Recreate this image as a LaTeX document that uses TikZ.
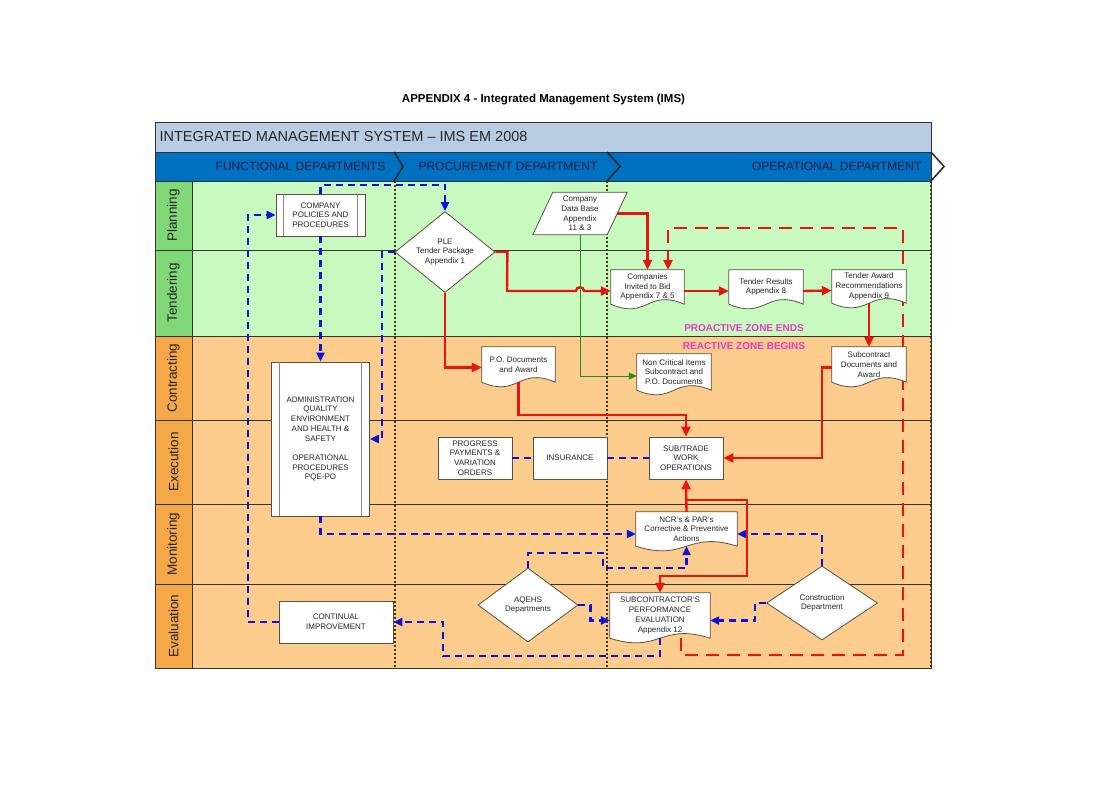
\documentclass[tikz,border=0pt]{standalone}
\usepackage{fontspec}
\setmainfont{Liberation Sans}
\usetikzlibrary{arrows.meta,shapes.geometric,calc}
\pgfdeclarelayer{back}
\pgfdeclarelayer{mid}
\pgfsetlayers{back,mid,main}
\definecolor{titlebar}{RGB}{184,204,228}
\definecolor{hdrblue}{RGB}{0,112,192}
\definecolor{hdrtext}{RGB}{12,30,72}
\definecolor{greenlbl}{RGB}{128,216,120}
\definecolor{greenbg}{RGB}{200,250,192}
\definecolor{orangelbl}{RGB}{245,168,72}
\definecolor{orangebg}{RGB}{252,204,140}
\definecolor{bdr}{RGB}{90,80,70}
\definecolor{flowblue}{RGB}{16,16,220}
\definecolor{flowred}{RGB}{232,20,20}
\definecolor{flowgreen}{RGB}{40,140,30}
\definecolor{zonemag}{RGB}{224,60,200}
\definecolor{sepcol}{RGB}{70,55,20}
\tikzset{
  txt/.style={font=\fontsize{8}{9.7}\selectfont, align=center, text=black!85, inner sep=1pt},
  procbox/.style={txt, draw=bdr, fill=white, line width=0.8pt},
  docn/.style={txt},
  docline/.style={draw=bdr, fill=white, line width=0.8pt},
  decision/.style={txt, diamond, aspect=1.25, draw=bdr, fill=white, line width=0.8pt, inner sep=0pt},
  innerline/.style={draw=bdr!70, line width=0.7pt},
  lanelbl/.style={font=\fontsize{13.5}{15}\selectfont, text=black!85, rotate=90},
  hdr/.style={font=\fontsize{12}{14}\selectfont, text=hdrtext},
  zone/.style={font=\fontsize{10}{12}\selectfont\bfseries, text=zonemag},
  laneline/.style={draw=black!80, line width=0.8pt},
  sepline/.style={draw=sepcol, line width=1.6pt, dash pattern=on 2pt off 2pt},
  chev/.style={draw=black!85, line width=1.5pt},
  bflow/.style={draw=flowblue, line width=2.2pt, dash pattern=on 7pt off 5pt, -{Triangle[length=9pt,width=8pt]}},
  bplain/.style={draw=flowblue, line width=2.2pt, dash pattern=on 7pt off 5pt},
  rflow/.style={draw=flowred, line width=2.4pt, -{Triangle[length=10pt,width=9pt]}},
  rdash/.style={draw=flowred, line width=2.4pt, dash pattern=on 13pt off 8pt, -{Triangle[length=10pt,width=9pt]}},
  gflow/.style={draw=flowgreen, line width=1pt, -{Triangle[length=8pt,width=7pt]}},
}
\newcommand\docshape[1]{\draw[docline] (#1.south west) -- (#1.north west) -- (#1.north east) -- (#1.south east) .. controls ([yshift=16pt]#1.south) and ([yshift=-16pt]#1.south) .. (#1.south west) -- cycle;}
\begin{document}
\begin{tikzpicture}[x=1pt,y=-1pt]
\useasboundingbox (0,0) rectangle (1100,790);

% background lanes
\begin{pgfonlayer}{back}
\fill[white] (0,0) rectangle (1100,790);
\fill[titlebar] (155,122) rectangle (931,152);
\fill[hdrblue] (155,152) rectangle (931,181);
\fill[greenbg] (192,181) rectangle (931,336);
\fill[greenlbl] (155,181) rectangle (192,336);
\fill[orangebg] (192,336) rectangle (931,668);
\fill[orangelbl] (155,336) rectangle (192,668);
\foreach \yy in {181,250,336,420,504,584}{\draw[laneline] (155,\yy) -- (931,\yy);}
\draw[laneline] (192,181) -- (192,668);
\draw[draw=black!80, line width=1pt] (155,122) rectangle (931,668);
\draw[laneline] (155,152) -- (931,152);
\draw[sepline] (395,181) -- (395,668);
\draw[sepline] (607,181) -- (607,668);
\draw[sepline] (931,181) -- (931,668);
\draw[chev] (394,152) -- (403,166.5) -- (394,181);
\draw[chev] (607,152) -- (620,166.5) -- (607,181);
\draw[chev] (931,152) -- (944,166.5) -- (931,181);
\end{pgfonlayer}

% title
\node[font=\fontsize{11.5}{13}\selectfont\bfseries] (maintitle) at (543.5,100) {APPENDIX 4 - Integrated Management System (IMS)};

\node[anchor=west, font=\fontsize{14.5}{16}\selectfont, text=black!85] (systitle) at (156,137) {INTEGRATED MANAGEMENT SYSTEM – IMS EM 2008};
\node[hdr] (h1) at (300.5,166.5) {FUNCTIONAL DEPARTMENTS};
\node[hdr] (h2) at (508,166.5) {PROCUREMENT DEPARTMENT};
\node[hdr, anchor=east] (h3) at (925,166.5) {OPERATIONAL DEPARTMENT};

\node[lanelbl] (l1) at (173.5,215.5) {Planning};
\node[lanelbl] (l2) at (173.5,293) {Tendering};
\node[lanelbl] (l3) at (173.5,378) {Contracting};
\node[lanelbl] (l4) at (173.5,462) {Execution};
\node[lanelbl] (l5) at (173.5,544) {Monitoring};
\node[lanelbl] (l6) at (173.5,626) {Evaluation};

\node[zone] (pz) at (744,328) {PROACTIVE ZONE ENDS};
\node[zone] (rz) at (744,346) {REACTIVE ZONE BEGINS};

% process boxes
\node[procbox, minimum width=89pt, minimum height=42pt] (pol) at (320.5,215) {COMPANY\\POLICIES AND\\PROCEDURES};
\draw[innerline] ([xshift=8pt]pol.north west) -- ([xshift=8pt]pol.south west);
\draw[innerline] ([xshift=-8pt]pol.north east) -- ([xshift=-8pt]pol.south east);

\node[procbox, minimum width=98pt, minimum height=154pt] (admin) at (320.5,439) {ADMINISTRATION\\QUALITY\\ENVIRONMENT\\AND HEALTH \&\\SAFETY\\[9.7pt]OPERATIONAL\\PROCEDURES\\PQE-PO};
\draw[innerline] ([xshift=8.5pt]admin.north west) -- ([xshift=8.5pt]admin.south west);
\draw[innerline] ([xshift=-8.5pt]admin.north east) -- ([xshift=-8.5pt]admin.south east);

\node[procbox, minimum width=74pt, minimum height=42pt] (prog) at (475,458) {PROGRESS\\PAYMENTS \&\\VARIATION\\ORDERS};
\node[procbox, minimum width=74pt, minimum height=42pt] (ins) at (570,458) {INSURANCE};
\node[procbox, minimum width=74pt, minimum height=42pt] (sub) at (686,458) {SUB/TRADE\\WORK\\OPERATIONS};
\node[procbox, minimum width=114pt, minimum height=42pt] (cont) at (336,622) {CONTINUAL\\IMPROVEMENT};

% decisions
\node[decision, minimum width=100pt, minimum height=81pt] (ple) at (445,252) {PLE\\Tender Package\\Appendix 1};
\node[decision, minimum width=100pt, minimum height=74pt] (aq) at (528,605) {AQEHS\\Departments};
\node[decision, minimum width=111pt, minimum height=74pt] (con) at (822,603) {Construction\\Department};

% data (parallelogram)
\node[docn, minimum width=74pt, minimum height=42pt] (db) at (580,213.5) {Company\\Data Base\\Appendix\\11 \& 3};

% documents
\node[docn, minimum width=73pt, minimum height=34pt] (inv) at (647.5,287) {Companies\\Invited to Bid\\Appendix 7 \& 5};
\node[docn, minimum width=74pt, minimum height=34pt] (res) at (766,287) {Tender Results\\Appendix 8};
\node[docn, minimum width=74pt, minimum height=33pt] (award) at (869,286.5) {Tender Award\\Recommendations\\Appendix 9};
\node[docn, minimum width=73pt, minimum height=35pt] (po) at (518.5,364.5) {P.O. Documents\\and Award};
\node[docn, minimum width=74pt, minimum height=36pt] (noncrit) at (674,372) {Non Critical Items\\Subcontract and\\P.O. Documents};
\node[docn, minimum width=74pt, minimum height=35pt] (subdoc) at (869,364.5) {Subcontract\\Documents and\\Award};
\node[docn, minimum width=101pt, minimum height=34pt] (ncr) at (686.5,529) {NCR's \& PAR's\\Corrective \& Preventive\\Actions};
\node[docn, minimum width=100pt, minimum height=45pt] (eval) at (660,615.5) {SUBCONTRACTOR'S\\PERFORMANCE\\EVALUATION\\Appendix 12};

\begin{pgfonlayer}{mid}
% red dashed feedback loop (behind shapes)
\draw[rdash] ([xshift=21pt]eval.south) -- ++(0,17) -| (903,228) -| ([xshift=20.5pt]inv.north);
\draw[docline] ([xshift=10pt]db.north west) -- ([xshift=10pt]db.north east) -- ([xshift=-10pt]db.south east) -- ([xshift=-10pt]db.south west) -- cycle;
\docshape{inv}
\docshape{res}
\docshape{award}
\docshape{po}
\docshape{noncrit}
\docshape{subdoc}
\docshape{ncr}
\docshape{eval}
\end{pgfonlayer}

% blue dashed connectors
\draw[bflow] (pol.north) -- ++(0,-9) -| (ple.north);
\draw[bflow] (pol.south) -- (admin.north);
\draw[bflow] (cont.west) -- ++(-31,0) |- (pol.west);
\draw[bflow] (ple.west) -- ++(-13,0) |- (admin.east);
\draw[bflow] (admin.south) |- ([yshift=-5pt]ncr.west);
\draw[bplain] (prog.east) -- (ins.west);
\draw[bplain] (ins.east) -- (sub.west);
\draw[bflow] (aq.north) -- ++(0,-15) -| (603,568) -| (ncr.south);
\draw[bflow] (aq.east) -- ++(12,0) |- ([yshift=-5pt]eval.west);
\draw[bflow] (con.west) -- ++(-11,0) |- ([yshift=-5pt]eval.east);
\draw[bflow] (con.north) |- ([yshift=-5pt]ncr.east);
\draw[bflow] (eval.south) |- (443,656) |- (cont.east);

% red connectors
\draw[rflow] (ple.east) -- ++(12,0) -- (507,291) -- (576,291) .. controls (576,286) and (584,286) .. (584,291) -- ([yshift=-4pt]inv.west);
\draw[rflow] (db.east) -| (inv.north);
\draw[rflow] ([yshift=-4pt]inv.east) -- ([yshift=-4pt]res.west);
\draw[rflow] ([yshift=-4pt]res.east) -- ([yshift=-4pt]award.west);
\draw[rflow] (award.south) -- (subdoc.north);
\draw[rflow] ([yshift=-3pt]subdoc.west) -- ++(-10,0) |- (sub.east);
\draw[rflow] (ple.south) |- ([yshift=-3pt]po.west);
\draw[rflow] (po.south) -- ++(0,33) -| (sub.north);
\draw[rflow] (ncr.north) -- (sub.south);
\coordinate (br) at (687,500);
\draw[rflow] (br) -| (747,576) -| (eval.north);

% green connector
\draw[gflow] (db.south) |- ([yshift=-4pt]noncrit.west);
\end{tikzpicture}
\end{document}
